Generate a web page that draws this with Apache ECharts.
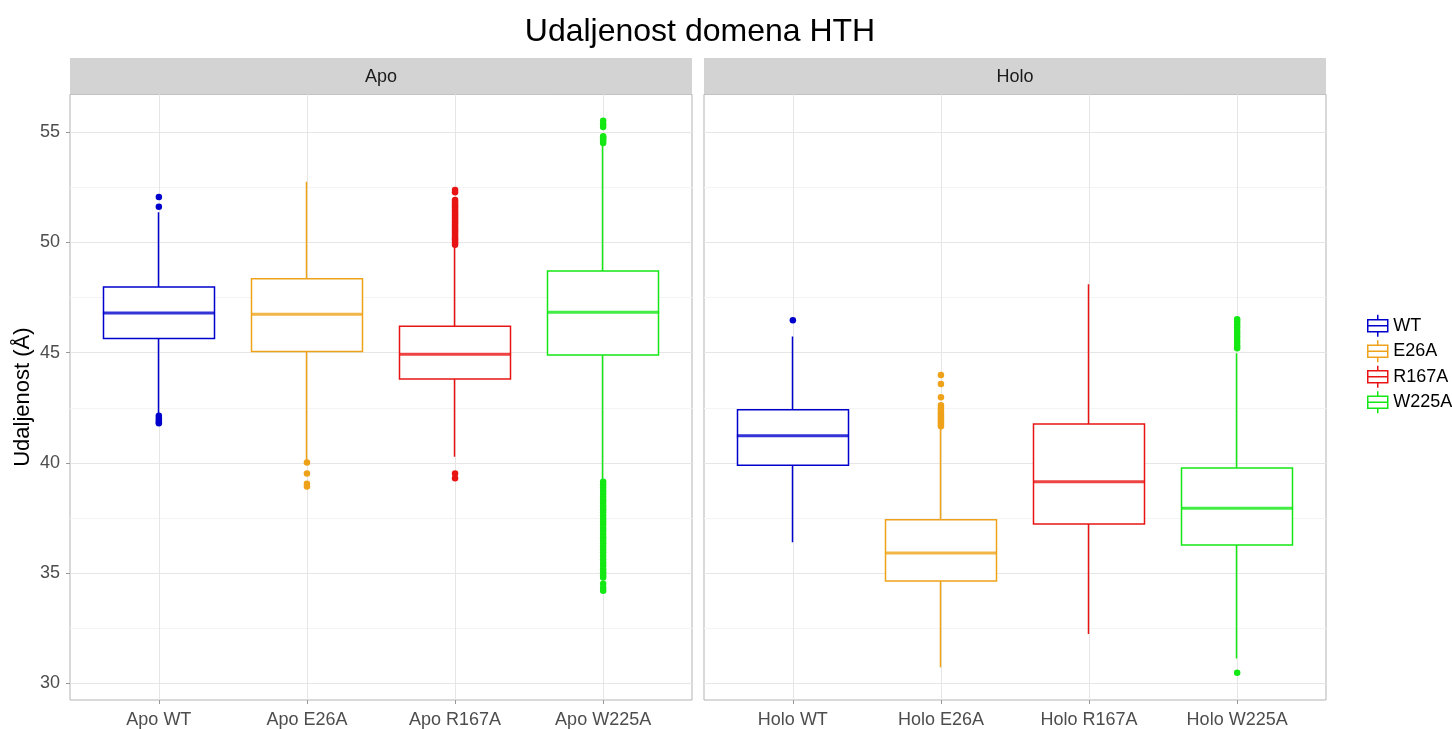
<!DOCTYPE html>
<html>
<head>
<meta charset="utf-8">
<title>Udaljenost domena HTH</title>
<script src="https://cdn.jsdelivr.net/npm/echarts@6/dist/echarts.min.js"></script>
<style>
  html, body { margin: 0; padding: 0; background: #fff; }
  #chart { width: 1452px; height: 729px; }
</style>
</head>
<body>
<div id="chart"></div>
<script>
// skupine (boje) i oznake kategorija
const groups = ['WT', 'E26A', 'R167A', 'W225A'];
const colors = ['#0000CD', '#EEA21A', '#E81414', '#14E814'];
const apoLabels = ['Apo WT', 'Apo E26A', 'Apo R167A', 'Apo W225A'];
const holoLabels = ['Holo WT', 'Holo E26A', 'Holo R167A', 'Holo W225A'];
const yTicks = [30, 35, 40, 45, 50, 55];
const yMinor = [32.5, 37.5, 42.5, 47.5, 52.5];

// Apo: donji brk, Q1, medijan, Q3, gornji brk (po skupini)
const apoLow = [42.25, 40.13, 40.28, 39.22];
const apoQ1 = [45.64, 45.05, 43.81, 44.90];
const apoMedian = [46.80, 46.74, 44.93, 46.83];
const apoQ3 = [47.98, 48.36, 46.20, 48.71];
const apoHigh = [51.37, 52.76, 49.81, 54.42];

// Holo
const holoLow = [36.40, 30.73, 32.24, 31.13];
const holoQ1 = [39.89, 34.64, 37.23, 36.28];
const holoMedian = [41.23, 35.91, 39.15, 37.94];
const holoQ3 = [42.41, 37.42, 41.76, 39.77];
const holoHigh = [45.73, 41.57, 48.10, 44.97];

// outlieri
const apoOutWT = [52.06, 51.62, 42.14, 42.04, 41.95, 41.86, 41.80];
const apoOutE26A = [40.02, 39.52, 39.05, 38.93];
const apoOutR167A = [49.90, 49.98, 50.07, 50.15, 50.22, 50.31, 50.40, 50.48, 50.55, 50.63,
  50.72, 50.80, 50.88, 50.95, 51.04, 51.12, 51.20, 51.27, 51.36, 51.44, 51.52, 51.60,
  51.68, 51.76, 51.85, 51.93, 52.28, 52.38, 39.52, 39.30];
const apoOutW225A = [54.52, 54.60, 54.68, 54.76, 54.82, 55.24, 55.36, 55.52,
  39.15, 39.02, 38.88, 38.74, 38.60, 38.45, 38.31, 38.18, 38.03, 37.90, 37.76, 37.61,
  37.47, 37.33, 37.20, 37.05, 36.92, 36.77, 36.63, 36.50, 36.35, 36.21, 36.07, 35.93,
  35.78, 35.62, 35.47, 35.33, 35.18, 35.04, 34.90, 34.80, 34.52, 34.34, 34.20];
const holoOutWT = [46.47];
const holoOutE26A = [41.66, 41.74, 41.82, 41.90, 41.98, 42.06, 42.14, 42.22, 42.31,
  42.40, 42.50, 42.62, 42.98, 43.58, 43.99];
const holoOutR167A = [];
const holoOutW225A = [45.20, 45.31, 45.45, 45.58, 45.72, 45.86, 46.00, 46.14, 46.27,
  46.40, 46.52, 30.48];

const apoOut = [apoOutWT, apoOutE26A, apoOutR167A, apoOutW225A];
const holoOut = [holoOutWT, holoOutE26A, holoOutR167A, holoOutW225A];

const fontFamily = 'Liberation Sans, Arial, sans-serif';
const boxWidth = 111;
const boxIcon = 'path://M10,0L10,5M0,5L20,5L20,17L0,17ZM0,11L20,11M10,17L10,22';

const chart = echarts.init(document.getElementById('chart'), null, { renderer: 'canvas' });

function makeXAxis(gridIndex, labels) {
  return {
    type: 'value', gridIndex: gridIndex, min: -0.6, max: 3.6,
    axisLine: { show: false, onZero: false },
    axisTick: { show: true, length: 4, customValues: [0, 1, 2, 3], lineStyle: { color: '#999' } },
    axisLabel: {
      customValues: [0, 1, 2, 3], margin: 11, color: '#4D4D4D', fontSize: 18, fontFamily: fontFamily,
      formatter: v => labels[Math.round(v)]
    },
    splitLine: { show: true, lineStyle: { color: '#E6E6E6', width: 1 } }
  };
}

function makeYAxis(gridIndex, showLabels) {
  return {
    type: 'value', gridIndex: gridIndex, min: 29.242, max: 56.724,
    name: showLabels ? 'Udaljenost (Å)' : '', nameLocation: 'middle', nameGap: 36,
    nameTextStyle: { color: '#000', fontSize: 22, fontFamily: fontFamily },
    axisLine: { show: false, onZero: false },
    axisTick: { show: showLabels, length: 4, customValues: yTicks, lineStyle: { color: '#999' } },
    axisLabel: { show: showLabels, customValues: yTicks, margin: 10, color: '#4D4D4D', fontSize: 18, fontFamily: fontFamily },
    splitLine: { show: true, lineStyle: { color: '#E6E6E6', width: 1 } }
  };
}

function makeMinorYAxis(gridIndex) {
  return {
    type: 'value', gridIndex: gridIndex, min: 29.242, max: 56.724, position: 'left',
    axisLine: { show: false, onZero: false },
    axisTick: { show: false, customValues: yMinor },
    axisLabel: { show: false },
    splitLine: { show: true, lineStyle: { color: '#F4F4F4', width: 1 } }
  };
}

const series = [];
function addPanel(gridIndex, low, q1, med, q3, high, outs) {
  groups.forEach((g, i) => {
    series.push({
      name: g, type: 'candlestick', xAxisIndex: gridIndex, yAxisIndex: gridIndex * 2,
      barWidth: boxWidth, z: 3,
      itemStyle: { color: '#fff', color0: '#fff', borderColor: colors[i], borderColor0: colors[i], borderWidth: 1.5 },
      data: [[i, q1[i], q3[i], low[i], high[i]]]
    });
  });
  groups.forEach((g, i) => {
    series.push({
      name: g, type: 'scatter', xAxisIndex: gridIndex, yAxisIndex: gridIndex * 2,
      symbol: 'rect', symbolSize: [boxWidth + 1, 3], z: 4, silent: true,
      itemStyle: { color: colors[i] },
      data: [[i, med[i]]]
    });
    series.push({
      name: g, type: 'scatter', xAxisIndex: gridIndex, yAxisIndex: gridIndex * 2,
      symbol: 'circle', symbolSize: 6.5, z: 5,
      itemStyle: { color: colors[i], opacity: 1 },
      data: outs[i].map(v => [i, v])
    });
  });
}
addPanel(0, apoLow, apoQ1, apoMedian, apoQ3, apoHigh, apoOut);
addPanel(1, holoLow, holoQ1, holoMedian, holoQ3, holoHigh, holoOut);

const option = {
  backgroundColor: '#fff',
  animation: false,
  textStyle: { fontFamily: fontFamily },
  title: {
    text: 'Udaljenost domena HTH', left: 695, top: 11, textAlign: 'center',
    textStyle: { color: '#000', fontSize: 32, fontWeight: 'normal', fontFamily: fontFamily }
  },
  legend: {
    orient: 'vertical', left: 1362, top: 309, itemWidth: 21, itemHeight: 22, itemGap: 2,
    textStyle: { color: '#000', fontSize: 18, fontFamily: fontFamily },
    data: groups.map((g, i) => ({
      name: g, icon: boxIcon,
      itemStyle: { color: '#fff', borderColor: colors[i], borderWidth: 1.5 }
    }))
  },
  grid: [
    { left: 70, top: 94.3, width: 622, height: 605.7, show: true, borderColor: '#B3B3B3', borderWidth: 1, backgroundColor: '#fff' },
    { left: 704, top: 94.3, width: 622, height: 605.7, show: true, borderColor: '#B3B3B3', borderWidth: 1, backgroundColor: '#fff' }
  ],
  xAxis: [makeXAxis(0, apoLabels), makeXAxis(1, holoLabels)],
  yAxis: [makeYAxis(0, true), makeMinorYAxis(0), makeYAxis(1, false), makeMinorYAxis(1)],
  graphic: [
    { type: 'rect', shape: { x: 70, y: 58, width: 622, height: 36 }, style: { fill: '#D3D3D3' }, z: 10 },
    { type: 'text', x: 381, y: 77, style: { text: 'Apo', fill: '#1A1A1A', font: '18px ' + fontFamily, textAlign: 'center', textVerticalAlign: 'middle' }, z: 11 },
    { type: 'rect', shape: { x: 704, y: 58, width: 622, height: 36 }, style: { fill: '#D3D3D3' }, z: 10 },
    { type: 'text', x: 1015, y: 77, style: { text: 'Holo', fill: '#1A1A1A', font: '18px ' + fontFamily, textAlign: 'center', textVerticalAlign: 'middle' }, z: 11 }
  ],
  series: series
};

chart.setOption(option);
</script>
</body>
</html>
